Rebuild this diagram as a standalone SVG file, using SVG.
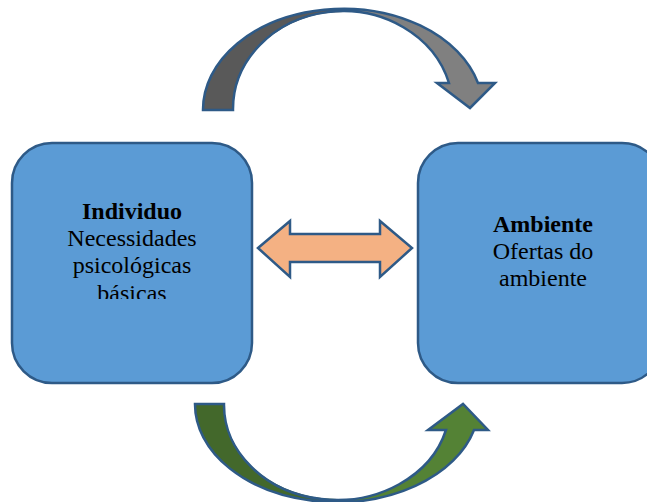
<svg xmlns="http://www.w3.org/2000/svg" width="647" height="502" viewBox="0 0 647 502">
  <style>
    .box { fill: #5B9BD5; stroke: #2E5A87; stroke-width: 2.5; }
    .edge { stroke: #2E5A87; stroke-width: 2.5; stroke-linejoin: miter; }
    .t { font-family: "Liberation Serif", "Times New Roman", serif; font-size: 24px; fill: #000; text-anchor: middle; }
    .b { font-weight: bold; }
  </style>
  <defs>
    <clipPath id="leftText">
      <rect x="12" y="143" width="240" height="156"/>
    </clipPath>
  </defs>
  <rect width="647" height="502" fill="#fff"/>

  <g id="individuo">
    <rect class="box" x="12" y="143" width="240" height="240" rx="40" ry="40"/>
    <g clip-path="url(#leftText)">
      <text class="t b" x="132" y="219">Individuo</text>
      <text class="t" x="132" y="246">Necessidades</text>
      <text class="t" x="132" y="273">psicológicas</text>
      <text class="t" x="132" y="301">básicas</text>
    </g>
  </g>

  <g id="ambiente">
    <rect class="box" x="418" y="143" width="244" height="240" rx="40" ry="40"/>
    <text class="t b" x="543" y="232">Ambiente</text>
    <text class="t" x="543" y="259">Ofertas do</text>
    <text class="t" x="543" y="286">ambiente</text>
  </g>

  <g id="connectors">
    <!-- two-way link between the boxes -->
    <polygon class="edge" fill="#F4B183" points="258,248 290,221 290,234 380,234 380,221 412,248 380,277 380,262 290,262 290,277"/>

    <!-- curved arrow over the top -->
    <path fill="#808080" d="M203,110 A140,101 0 0 1 478,83 L495,83 L470,108 L437,83 L449,83 A110,98 0 0 0 233,110 Z"/>
    <path fill="#595959" d="M203,110 A140,101 0 0 1 345,9 L345,12 A110,98 0 0 0 233,110 Z"/>
    <path class="edge" fill="none" d="M203,110 A140,101 0 0 1 478,83 L495,83 L470,108 L437,83 L449,83 A110,98 0 0 0 233,110 Z"/>

    <!-- curved arrow underneath -->
    <path fill="#548235" d="M195,404 A142,98 0 0 0 474,430 L488,430 L463,404 L428,430 L446,430 A113,95 0 0 1 224,404 Z"/>
    <path fill="#43682B" d="M195,404 A142,98 0 0 0 337,502 L337,499 A113,95 0 0 1 224,404 Z"/>
    <path class="edge" fill="none" d="M195,404 A142,98 0 0 0 474,430 L488,430 L463,404 L428,430 L446,430 A113,95 0 0 1 224,404 Z"/>
  </g>
</svg>
